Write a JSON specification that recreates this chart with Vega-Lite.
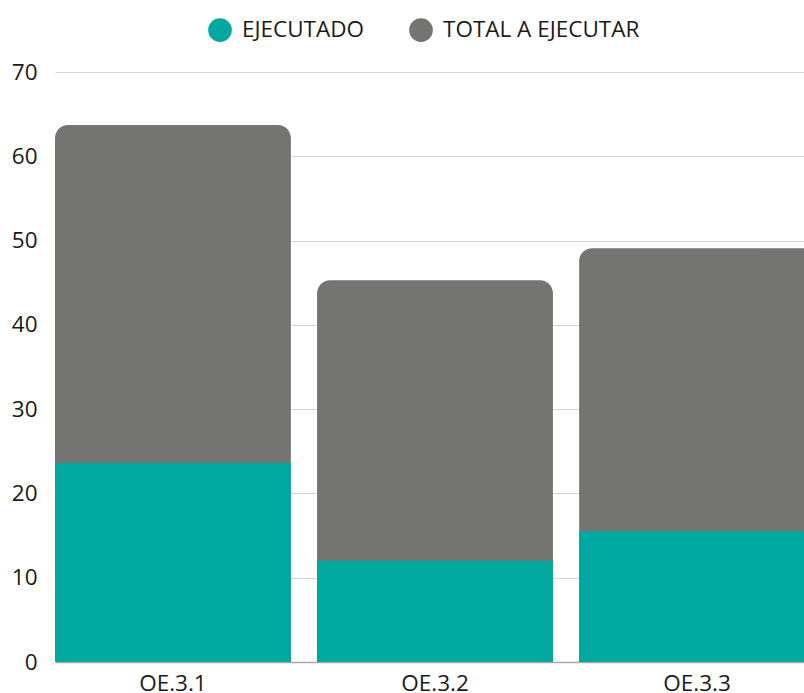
{
  "$schema": "https://vega.github.io/schema/vega-lite/v6.json",
  "width": 749,
  "height": 590,
  "autosize": {"type": "none"},
  "padding": {"left": 55, "top": 72, "right": 0, "bottom": 31},
  "background": "white",
  "config": {
    "view": {"stroke": null},
    "font": "Open Sans",
    "axis": {"labelFont": "Open Sans", "labelColor": "#1a1a1a", "labelFontSize": 22.5}
  },
  "data": {
    "values": [
      {"objetivo": "OE.3.1", "serie": "TOTAL A EJECUTAR", "valor": 63.7},
      {"objetivo": "OE.3.2", "serie": "TOTAL A EJECUTAR", "valor": 45.3},
      {"objetivo": "OE.3.3", "serie": "TOTAL A EJECUTAR", "valor": 49.1},
      {"objetivo": "OE.3.1", "serie": "EJECUTADO", "valor": 23.6},
      {"objetivo": "OE.3.2", "serie": "EJECUTADO", "valor": 12.0},
      {"objetivo": "OE.3.3", "serie": "EJECUTADO", "valor": 15.5}
    ]
  },
  "encoding": {
    "x": {
      "field": "objetivo",
      "type": "nominal",
      "sort": ["OE.3.1", "OE.3.2", "OE.3.3"],
      "scale": {"paddingInner": 0.1, "paddingOuter": 0, "range": [0, 760]},
      "axis": {"title": null, "labelAngle": 0, "ticks": false, "domain": true, "domainColor": "#aaaaaa", "domainWidth": 1.5, "labelPadding": 10, "grid": false}
    },
    "y": {
      "field": "valor",
      "type": "quantitative",
      "stack": null,
      "scale": {"domain": [0, 70], "nice": false},
      "axis": {"title": null, "values": [0, 10, 20, 30, 40, 50, 60, 70], "ticks": false, "domain": false, "grid": true, "gridColor": "#d6d6d6", "labelPadding": 18}
    },
    "color": {
      "field": "serie",
      "type": "nominal",
      "scale": {"domain": ["EJECUTADO", "TOTAL A EJECUTAR"], "range": ["#00A99F", "#747472"]},
      "legend": {
        "title": null,
        "orient": "none",
        "direction": "horizontal",
        "legendX": 153,
        "legendY": -54,
        "symbolType": "circle",
        "symbolSize": 560,
        "symbolStrokeWidth": 0,
        "symbolOpacity": 1,
        "labelFontSize": 22.5,
        "labelFont": "Open Sans",
        "labelColor": "#1a1a1a",
        "labelOffset": 10,
        "labelLimit": 0,
        "columnPadding": 44
      }
    }
  },
  "layer": [
    {
      "transform": [{"filter": "datum.serie === 'TOTAL A EJECUTAR'"}],
      "mark": {"type": "bar", "cornerRadiusTopLeft": 13, "cornerRadiusTopRight": 13}
    },
    {
      "transform": [{"filter": "datum.serie === 'EJECUTADO'"}],
      "mark": {"type": "bar"}
    }
  ]
}
